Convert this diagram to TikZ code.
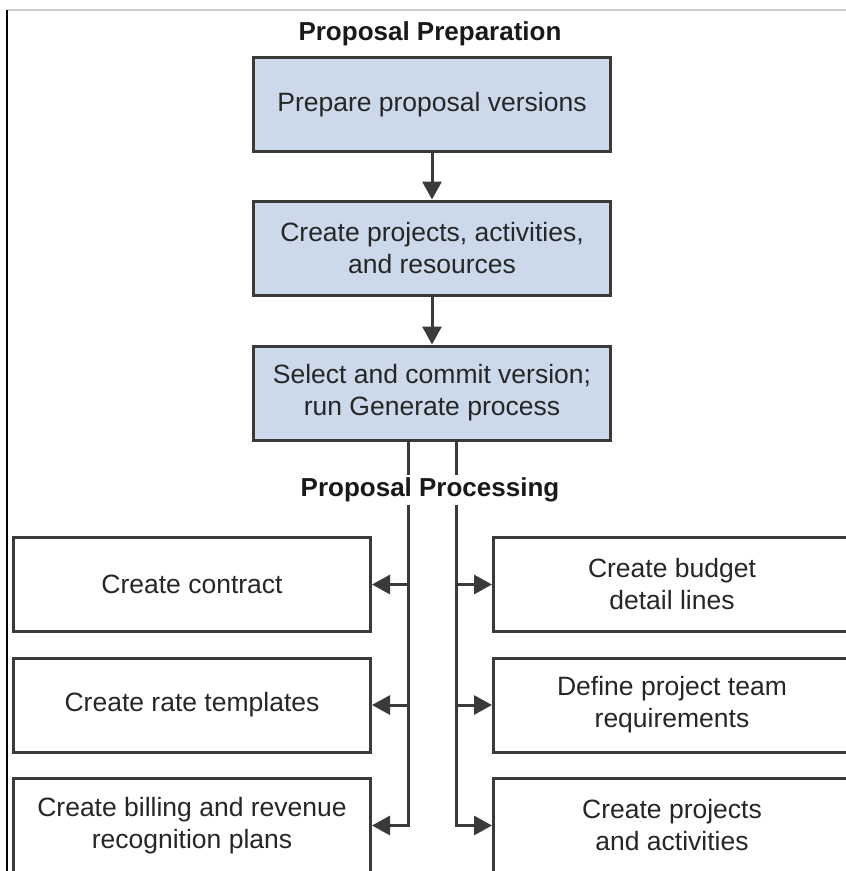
\documentclass[tikz,border=0pt]{standalone}
\usepackage{fontspec}
\setmainfont{Liberation Sans}
\usetikzlibrary{arrows.meta}
\definecolor{boxblue}{HTML}{CCD9EB}
\definecolor{linegray}{HTML}{3A3A3A}
\begin{document}
\begin{tikzpicture}[x=1pt,y=-1pt]
\tikzstyle{stage}=[draw=linegray,line width=3pt,fill=boxblue,minimum width=357pt,minimum height=94pt,inner sep=0pt,align=center,text=black!85,font=\fontsize{26.5}{32}\selectfont]
\tikzstyle{task}=[stage,fill=white]
\tikzstyle{phase}=[fill=white,inner sep=3pt,text=black!90,font=\fontsize{26}{32}\selectfont\bfseries]
\tikzstyle{flow}=[draw=linegray,line width=3pt,-{Triangle[length=18pt,width=19pt]}]
\useasboundingbox (0,0) rectangle (846,871);
\clip (0,0) rectangle (846,871);
\draw[gray!40,line width=1.2pt] (7,10) -- (846,10);
\draw[black,line width=1.2pt] (7,10) -- (7,871);

\path (430,34) node[phase](h1){Proposal Preparation};
\path (432,104.5) node[stage](p1){Prepare proposal versions};
\path (432,248) node[stage](p2){Create projects, activities,\\and resources};
\path (432,393) node[stage](p3){Select and commit version;\\run Generate process};
\draw[flow] (p1) -- (p2);
\draw[flow] (p2) -- (p3);

\path (192,584.5) node[task](l1){Create contract};
\path (192,705) node[task](l2){Create rate templates};
\path (192,825.5) node[task](l3){Create billing and revenue\\recognition plans};
\path (672,584.5) node[task](r1){Create budget\\detail lines};
\path (672,705) node[task](r2){Define project team\\requirements};
\path (672,825.5) node[task](r3){Create projects\\and activities};

\coordinate (a) at ([xshift=-24pt]p3.south);
\coordinate (b) at ([xshift=24pt]p3.south);
\draw[flow] (a) |- (l3.east);
\draw[flow] (a |- l1.east) -- (l1.east);
\draw[flow] (a |- l2.east) -- (l2.east);
\draw[flow] (b) |- (r3.west);
\draw[flow] (b |- r1.west) -- (r1.west);
\draw[flow] (b |- r2.west) -- (r2.west);

\path (430,490) node[phase](h2){Proposal Processing};
\end{tikzpicture}
\end{document}
